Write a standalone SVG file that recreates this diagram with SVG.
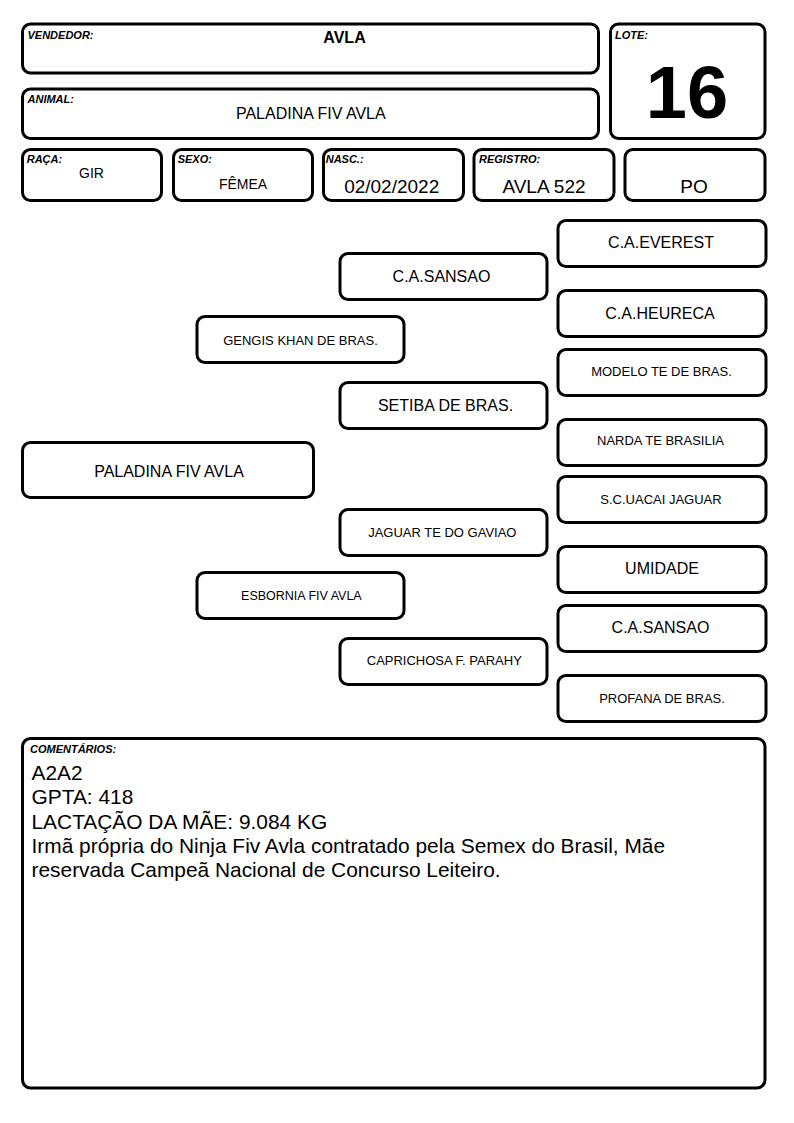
<svg xmlns="http://www.w3.org/2000/svg" width="794" height="1123" viewBox="0 0 794 1123">
<style>
.box{fill:#fff;stroke:#000;stroke-width:3}
.lbl{font-family:"Liberation Sans",Arial,sans-serif;font-weight:bold;font-style:italic;font-size:11px;fill:#000}
.t{font-family:"Liberation Sans",Arial,sans-serif;fill:#000;text-anchor:middle}
.c{font-family:"Liberation Sans",Arial,sans-serif;fill:#000;font-size:20.9px}
</style>
<rect width="794" height="1123" fill="#fff"/>
<g id="vendedor">
<rect class="box" x="22.5" y="24" width="576" height="49" rx="8"/>
<text class="lbl" x="27.5" y="39">VENDEDOR:</text>
<text class="t" x="344.5" y="43" font-size="16" font-weight="bold">AVLA</text>
</g>
<g id="animal">
<rect class="box" x="22.5" y="89" width="576" height="49.5" rx="8"/>
<text class="lbl" x="27.5" y="102.7">ANIMAL:</text>
<text class="t" x="310.8" y="119" font-size="16">PALADINA FIV AVLA</text>
</g>
<g id="lote">
<rect class="box" x="610.5" y="24" width="154.5" height="114.5" rx="8"/>
<text class="lbl" x="615" y="39">LOTE:</text>
<text class="t" x="687" y="118" font-size="74" font-weight="bold">16</text>
</g>
<g id="raca">
<rect class="box" x="22.5" y="149.5" width="139" height="51" rx="8"/>
<text class="lbl" x="26.7" y="162.7">RAÇA:</text>
<text class="t" x="91.5" y="177.7" font-size="14">GIR</text>
</g>
<g id="sexo">
<rect class="box" x="173.5" y="149.5" width="139" height="51" rx="8"/>
<text class="lbl" x="177.7" y="162.7">SEXO:</text>
<text class="t" x="243" y="189" font-size="14">FÊMEA</text>
</g>
<g id="nasc">
<rect class="box" x="323.5" y="149.5" width="140" height="51" rx="8"/>
<text class="lbl" x="325.7" y="162.7">NASC.:</text>
<text class="t" x="391.7" y="192.7" font-size="19">02/02/2022</text>
</g>
<g id="registro">
<rect class="box" x="474" y="149.5" width="140" height="51" rx="8"/>
<text class="lbl" x="479" y="162.7">REGISTRO:</text>
<text class="t" x="544" y="192.7" font-size="19">AVLA 522</text>
</g>
<g id="po">
<rect class="box" x="625" y="149.5" width="140" height="51" rx="8"/>
<text class="t" x="694" y="193" font-size="19">PO</text>
</g>
<g id="connectors"></g>
<g id="root">
<rect class="box" x="22.5" y="442.5" width="291" height="55" rx="8"/>
<text class="t" x="169" y="476.7" font-size="16">PALADINA FIV AVLA</text>
</g>
<g id="sire">
<rect class="box" x="197" y="316.5" width="207" height="46" rx="8"/>
<text class="t" x="300.5" y="345" font-size="13">GENGIS KHAN DE BRAS.</text>
</g>
<g id="dam">
<rect class="box" x="197" y="572.5" width="207" height="46" rx="8"/>
<text class="t" x="301.4" y="600" font-size="12.5">ESBORNIA FIV AVLA</text>
</g>
<g id="ss">
<rect class="box" x="340" y="253.5" width="207" height="46" rx="8"/>
<text class="t" x="441.5" y="281.7" font-size="16">C.A.SANSAO</text>
</g>
<g id="sd">
<rect class="box" x="340" y="382.5" width="207" height="46" rx="8"/>
<text class="t" x="445.5" y="411" font-size="16">SETIBA DE BRAS.</text>
</g>
<g id="ds">
<rect class="box" x="340" y="509.5" width="207" height="46" rx="8"/>
<text class="t" x="442.3" y="536.7" font-size="13">JAGUAR TE DO GAVIAO</text>
</g>
<g id="dd">
<rect class="box" x="340" y="638.5" width="207" height="46" rx="8"/>
<text class="t" x="444.3" y="665" font-size="13">CAPRICHOSA F. PARAHY</text>
</g>
<g id="sss">
<rect class="box" x="558" y="220.5" width="208" height="46" rx="8"/>
<text class="t" x="661" y="248.3" font-size="16">C.A.EVEREST</text>
</g>
<g id="ssd">
<rect class="box" x="558" y="290.5" width="208" height="46" rx="8"/>
<text class="t" x="660" y="319" font-size="16">C.A.HEURECA</text>
</g>
<g id="sds">
<rect class="box" x="558" y="349.5" width="208" height="46" rx="8"/>
<text class="t" x="661.5" y="375.7" font-size="13">MODELO TE DE BRAS.</text>
</g>
<g id="sdd">
<rect class="box" x="558" y="419.5" width="208" height="46" rx="8"/>
<text class="t" x="660.5" y="445" font-size="13">NARDA TE BRASILIA</text>
</g>
<g id="dss">
<rect class="box" x="558" y="476.5" width="208" height="46" rx="8"/>
<text class="t" x="661" y="504" font-size="13">S.C.UACAI JAGUAR</text>
</g>
<g id="dsd">
<rect class="box" x="558" y="546.5" width="208" height="46" rx="8"/>
<text class="t" x="662" y="574.3" font-size="16">UMIDADE</text>
</g>
<g id="dds">
<rect class="box" x="558" y="605.5" width="208" height="46" rx="8"/>
<text class="t" x="660.5" y="632.7" font-size="16">C.A.SANSAO</text>
</g>
<g id="ddd">
<rect class="box" x="558" y="675.5" width="208" height="46" rx="8"/>
<text class="t" x="662" y="703.3" font-size="13">PROFANA DE BRAS.</text>
</g>
<g id="comentarios">
<rect class="box" x="22.5" y="738.5" width="742.5" height="349.5" rx="8"/>
<text class="lbl" x="30" y="752.7">COMENTÁRIOS:</text>
<text class="c" x="31.5" y="780">A2A2</text>
<text class="c" x="31.5" y="804">GPTA: 418</text>
<text class="c" x="31.5" y="829">LACTAÇÃO DA MÃE: 9.084 KG</text>
<text class="c" x="31.5" y="853">Irmã própria do Ninja Fiv Avla contratado pela Semex do Brasil, Mãe</text>
<text class="c" x="31.5" y="877">reservada Campeã Nacional de Concurso Leiteiro.</text>
</g>
</svg>
